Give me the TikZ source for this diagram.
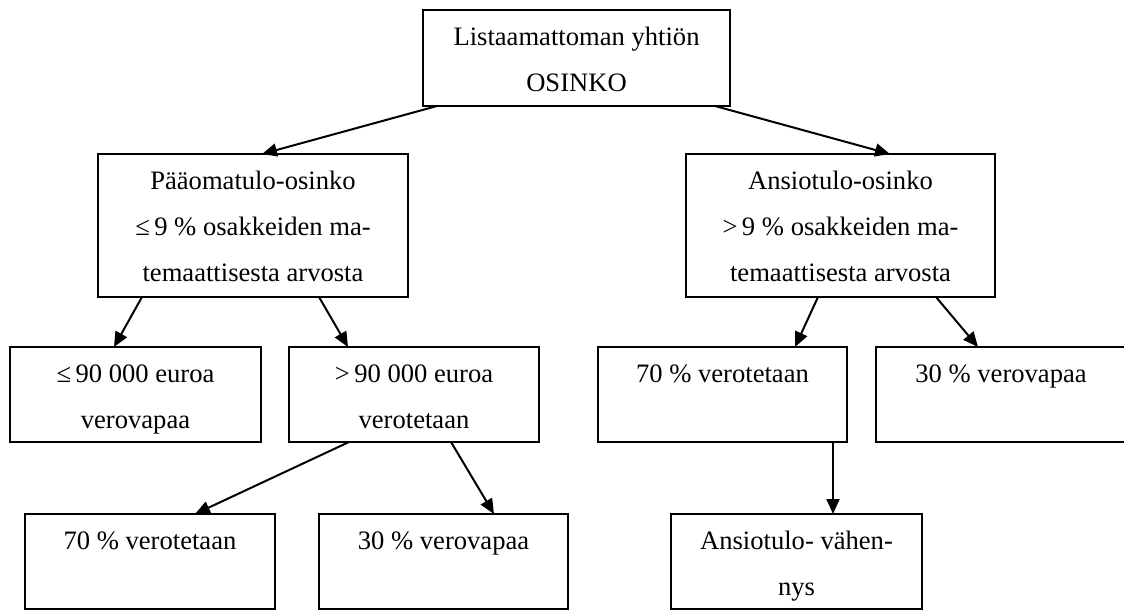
\documentclass[tikz,border=0pt]{standalone}
\usepackage{fontspec}
\setmainfont{Liberation Serif}
\usetikzlibrary{arrows.meta}
\newcommand{\bxtext}[3]{\parbox[c][#2][t]{#1}{\centering\rule{0pt}{35pt}#3}}
\tikzset{
  box/.style={draw=black, line width=1.6pt, inner sep=0pt, outer sep=0pt,
    font=\fontsize{26.6pt}{46pt}\selectfont},
  conn/.style={line width=2pt, -{Triangle[length=15pt,width=13pt]}}
}
\begin{document}
\begin{tikzpicture}[x=1pt,y=-1pt]
\fill[white] (0,0) rectangle (1124,610);
\useasboundingbox (0,0) rectangle (1124,610);
% top
\node[box] (T) at (576.5,58) {\bxtext{307pt}{96pt}{Listaamattoman yhtiön\\OSINKO}};
% middle
\node[box] (ML) at (253,225.5) {\bxtext{310pt}{143pt}{Pääomatulo-osinko\\≤\,9 \% osakkeiden ma-\\temaattisesta arvosta}};
\node[box] (MR) at (840.5,225.5) {\bxtext{309pt}{143pt}{Ansiotulo-osinko\\>\,9 \% osakkeiden ma-\\temaattisesta arvosta}};
% row 3
\node[box] (A) at (135.5,394.5) {\bxtext{251pt}{95pt}{≤\,90 000 euroa\\verovapaa}};
\node[box] (B) at (414,394.5) {\bxtext{250pt}{95pt}{>\,90 000 euroa\\verotetaan}};
\node[box] (C) at (722.5,394.5) {\bxtext{249pt}{95pt}{70 \% verotetaan}};
\node[box] (D) at (1001,394.5) {\bxtext{250pt}{95pt}{30 \% verovapaa}};
% row 4
\node[box] (E) at (150,561.5) {\bxtext{250pt}{95pt}{70 \% verotetaan}};
\node[box] (F) at (443.5,561.5) {\bxtext{249pt}{95pt}{30 \% verovapaa}};
\node[box] (G) at (796.5,561.5) {\bxtext{251pt}{95pt}{Ansiotulo- vähen-\\nys}};
% connectors
\draw[conn] ([xshift=14pt]T.south west) -- ([xshift=164pt]ML.north west);
\draw[conn] ([xshift=292pt]T.south west) -- ([xshift=204pt]MR.north west);
\draw[conn] ([xshift=44pt]ML.south west) -- ([xshift=104pt]A.north west);
\draw[conn] ([xshift=221pt]ML.south west) -- ([xshift=59pt]B.north west);
\draw[conn] ([xshift=132pt]MR.south west) -- ([xshift=197pt]C.north west);
\draw[conn] ([xshift=250pt]MR.south west) -- ([xshift=102pt]D.north west);
\draw[conn] ([xshift=60pt]B.south west) -- ([xshift=170pt]E.north west);
\draw[conn] ([xshift=162pt]B.south west) -- ([xshift=175pt]F.north west);
\draw[conn] ([xshift=235pt]C.south west) -- ([xshift=162pt]G.north west);
\end{tikzpicture}
\end{document}
